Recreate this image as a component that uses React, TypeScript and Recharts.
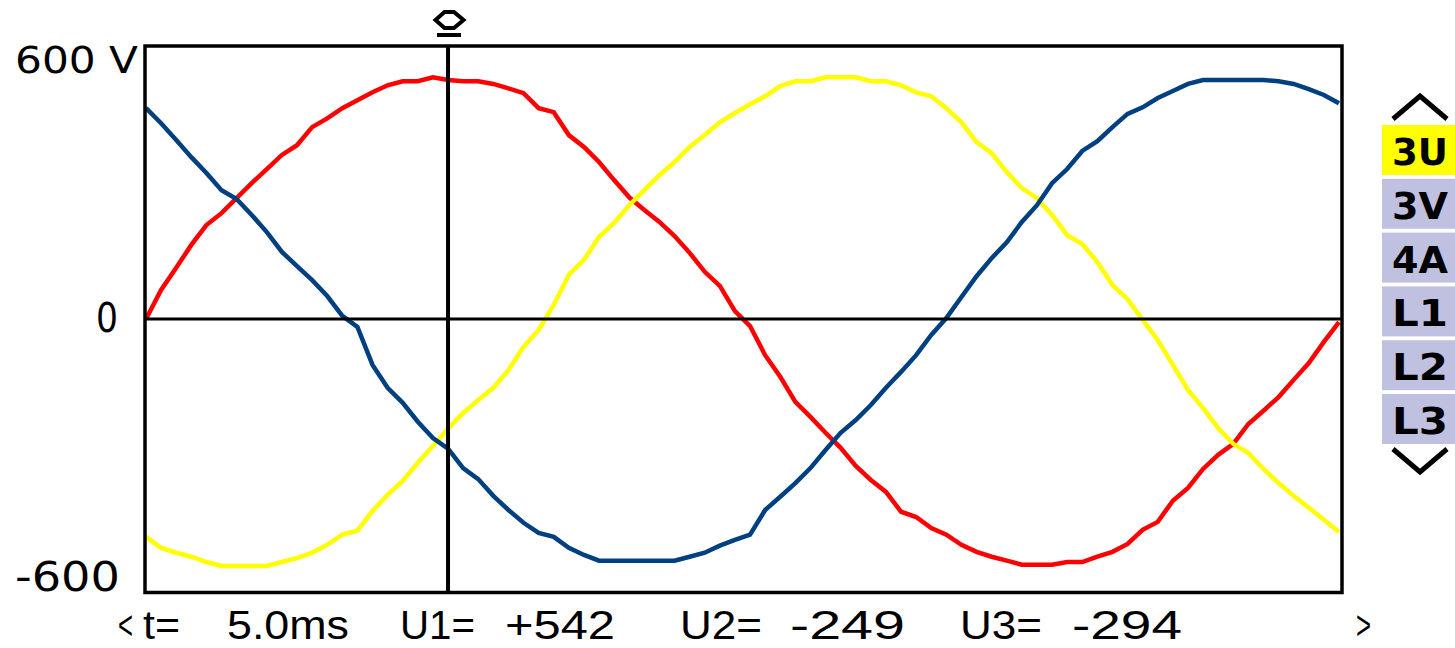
import { LineChart, Line, XAxis, YAxis, ReferenceLine } from 'recharts';

// scope samples, one every 0.25 ms (volts)
const SAMPLE_MS = 0.25;

const U1 = [
  0, 66, 116, 168, 213, 240, 274, 308, 340, 372,
  394, 435, 455, 478, 496, 514, 530, 539, 539, 548,
  542, 539, 539, 533, 523, 512, 478, 469, 417, 390,
  356, 315, 276, 247, 220, 188, 150, 107, 75, 18,
  -16, -82, -131, -188, -222, -258, -292, -333, -365, -392,
  -437, -449, -474, -489, -512, -528, -539, -548, -557, -557,
  -557, -551, -551, -539, -528, -510, -478, -460, -412, -383,
  -340, -308, -283, -238, -208, -177, -138, -100, -52, -7,
];

const U2 = [
  -494, -519, -530, -539, -551, -560, -560, -560, -560, -551,
  -542, -530, -512, -489, -480, -435, -399, -367, -326, -288,
  -249, -213, -184, -156, -116, -63, -25, 32, 100, 134,
  186, 218, 258, 292, 326, 356, 390, 417, 446, 467,
  487, 505, 528, 539, 539, 548, 548, 548, 539, 539,
  530, 514, 505, 478, 446, 401, 376, 333, 297, 274,
  236, 190, 170, 129, 77, 45, -2, -48, -104, -161,
  -202, -247, -283, -304, -340, -372, -401, -428, -455, -483,
];

const U3 = [
  478, 444, 406, 367, 331, 292, 272, 236, 197, 152,
  120, 88, 52, 7, -18, -104, -156, -190, -233, -270,
  -294, -338, -363, -401, -433, -462, -485, -494, -519, -535,
  -548, -548, -548, -548, -548, -548, -539, -530, -514, -501,
  -489, -433, -403, -372, -338, -297, -258, -229, -195, -156,
  -120, -82, -36, 2, 50, 97, 138, 174, 220, 258,
  308, 340, 381, 403, 435, 465, 480, 501, 517, 533,
  542, 542, 542, 542, 542, 539, 533, 521, 508, 489,
];

const Y_TICKS = [600, 0, -600];
const Y_TICK_LABELS = ['600 V', '0', '-600'];
const CURSOR_MS = 5.0;
const CURSOR_VALUES = [542, -249, -294];
const CHANNELS = ['3U', '3V', '4A', 'L1', 'L2', 'L3'];
const ACTIVE_CHANNEL = '3U';

const FONT = '"DejaVu Sans", sans-serif';
const READOUT_FONT = '"Liberation Sans", Arial, sans-serif';

const data = U1.map((u1, i) => ({ t: i * SAMPLE_MS, u1, u2: U2[i], u3: U3[i] }));

// per-label placement of the volt labels (left edge, baseline offset, size, width)
const tickStyle: Record<string, { x: number; dy: number; size: number; w: number }> = {
  '600 V': { x: 15, dy: 19, size: 38, w: 123 },
  '0': { x: 96, dy: 13, size: 41, w: 22 },
  '-600': { x: 15, dy: 7, size: 41, w: 105 },
};

const VoltTick = ({ y, payload }: any) => {
  const label = Y_TICK_LABELS[Y_TICKS.indexOf(payload.value)];
  const s = tickStyle[label];
  if (!s) return null;
  return (
    <text
      x={s.x}
      y={y + s.dy}
      fontFamily={FONT}
      fontSize={s.size}
      fill="#000"
      textLength={s.w}
      lengthAdjust="spacingAndGlyphs"
    >
      {label}
    </text>
  );
};

const fmt = (v: number) => (v > 0 ? `+${v}` : `${v}`);

export default function App() {
  const readout = [
    { s: '<', x: 118, w: 15 },
    { s: 't=', x: 143, w: 37 },
    { s: `${CURSOR_MS.toFixed(1)}ms`, x: 227, w: 122 },
    { s: 'U1=', x: 400, w: 75 },
    { s: fmt(CURSOR_VALUES[0]), x: 505, w: 110 },
    { s: 'U2=', x: 680, w: 82 },
    { s: fmt(CURSOR_VALUES[1]), x: 790, w: 115 },
    { s: 'U3=', x: 960, w: 82 },
    { s: fmt(CURSOR_VALUES[2]), x: 1072, w: 110 },
    { s: '>', x: 1356, w: 15 },
  ];

  return (
    <div style={{ position: 'absolute', left: 0, top: 0, width: 1455, height: 648, background: '#fff' }}>
      <LineChart width={1455} height={648} data={data} margin={{ top: 46, right: 113, bottom: 56, left: 0 }}>
        <XAxis type="number" dataKey="t" domain={[0, 19.8]} hide />
        <YAxis
          type="number"
          domain={[-619, 619]}
          ticks={Y_TICKS}
          width={146}
          axisLine={false}
          tickLine={false}
          tick={<VoltTick />}
          interval={0}
        />
        <Line type="linear" dataKey="u1" stroke="#ff0000" strokeWidth={4.5} dot={false} isAnimationActive={false} />
        <Line type="linear" dataKey="u2" stroke="#ffff00" strokeWidth={4.5} dot={false} isAnimationActive={false} />
        <Line type="linear" dataKey="u3" stroke="#004080" strokeWidth={4.5} dot={false} isAnimationActive={false} />
        <ReferenceLine y={0} stroke="#000" strokeWidth={3} />
        <ReferenceLine x={CURSOR_MS} stroke="#000" strokeWidth={4} />
      </LineChart>

      <svg
        width={1455}
        height={648}
        style={{ position: 'absolute', left: 0, top: 0, pointerEvents: 'none' }}
      >
        {/* screen frame */}
        <rect x={145} y={46} width={1197} height={546.5} fill="none" stroke="#000" strokeWidth={3.5} />

        {/* cursor marker */}
        <polygon
          points="444.5,12 454,12 463.5,20 454,28 444.5,28 435.5,20"
          fill="none"
          stroke="#000"
          strokeWidth={4}
        />
        <rect x={437} y={33} width={24} height={4} fill="#000" />

        {/* cursor readout */}
        {readout.map((r) => (
          <text
            key={r.s + r.x}
            x={r.x}
            y={639}
            fontFamily={READOUT_FONT}
            fontSize={40}
            fill="#000"
            textLength={r.w}
            lengthAdjust="spacingAndGlyphs"
          >
            {r.s}
          </text>
        ))}

        {/* channel selector */}
        <polyline points="1393,119 1420,96 1447,119" fill="none" stroke="#000" strokeWidth={5} />
        {CHANNELS.map((c, i) => {
          const top = 125 + i * 53.8;
          return (
            <g key={c}>
              <rect x={1382} y={top} width={73} height={50} fill={c === ACTIVE_CHANNEL ? '#ffff00' : '#c0c0e0'} />
              <text
                x={1392}
                y={top + 40}
                fontFamily={FONT}
                fontWeight="bold"
                fontSize={38}
                fill="#000"
                textLength={56}
                lengthAdjust="spacingAndGlyphs"
              >
                {c}
              </text>
            </g>
          );
        })}
        <polyline points="1393,449 1420,472 1447,449" fill="none" stroke="#000" strokeWidth={5} />
      </svg>
    </div>
  );
}
